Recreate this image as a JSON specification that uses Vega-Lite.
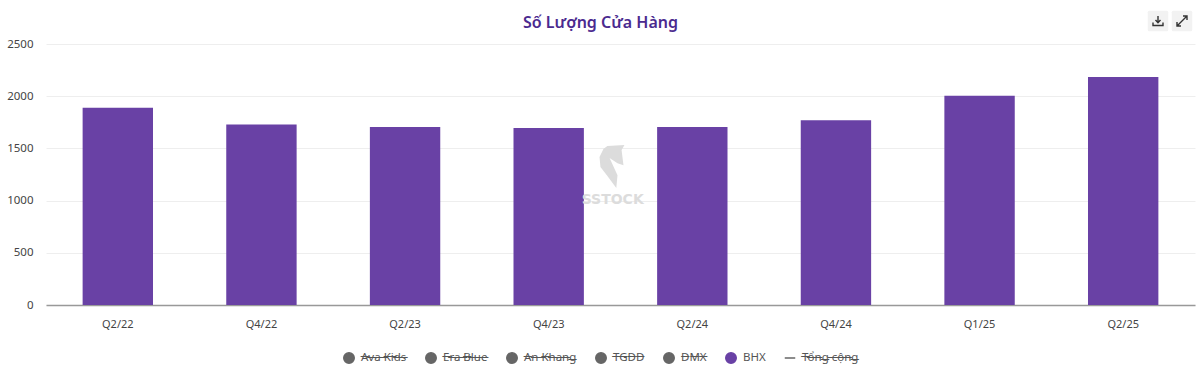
{"$schema":"https://vega.github.io/schema/vega-lite/v6.json","width":1149,"height":261,"autosize":{"type":"none"},"padding":{"left":46,"top":44,"right":5,"bottom":74},"background":"white","config":{"font":"Noto Sans","view":{"stroke":null}},"title":{"text":"Số Lượng Cửa Hàng","font":"Noto Sans","fontSize":16,"fontWeight":600,"color":"#4b2a8f","anchor":"middle","frame":"group","dx":-20,"offset":-20},"data":{"values":[{"period":"Q2/22","stores":1890,"series":"BHX"},{"period":"Q4/22","stores":1730,"series":"BHX"},{"period":"Q2/23","stores":1705,"series":"BHX"},{"period":"Q4/23","stores":1695,"series":"BHX"},{"period":"Q2/24","stores":1705,"series":"BHX"},{"period":"Q4/24","stores":1770,"series":"BHX"},{"period":"Q1/25","stores":2005,"series":"BHX"},{"period":"Q2/25","stores":2185,"series":"BHX"}]},"layer":[{"mark":{"type":"bar","color":"#6941a5"},"encoding":{"x":{"field":"period","type":"nominal","scale":{"domain":["Q2/22","Q4/22","Q2/23","Q4/23","Q2/24","Q4/24","Q1/25","Q2/25"],"paddingInner":0.51,"paddingOuter":0.255},"axis":{"title":null,"labelAngle":0,"labelFontSize":11,"labelColor":"#444","labelPadding":13,"ticks":false,"domainColor":"#999","domainWidth":1.5,"grid":false}},"y":{"field":"stores","type":"quantitative","scale":{"domain":[0,2500]},"axis":{"title":null,"format":"d","values":[0,500,1000,1500,2000,2500],"labelFontSize":11.5,"labelColor":"#444","labelPadding":13,"ticks":false,"domain":false,"gridColor":"#eeeeee"}}}},{"data":{"values":[{"label":"SSTOCK","period":"Q4/23"}]},"mark":{"type":"text","text":"SSTOCK","font":"DejaVu Sans","fontWeight":"bold","fontSize":14,"color":"#dcdcdc","align":"center","baseline":"middle","dx":64},"encoding":{"x":{"field":"period","type":"nominal","scale":{"domain":["Q2/22","Q4/22","Q2/23","Q4/23","Q2/24","Q4/24","Q1/25","Q2/25"]}},"y":{"datum":1010,"type":"quantitative","scale":{"domain":[0,2500]}}}},{"data":{"values":[{"label":"horse","period":"Q4/23"}]},"mark":{"type":"point","filled":true,"color":"#dcdcdc","opacity":1,"size":2300,"shape":"M-0.17,-0.92 L0.54,-0.96 L0.42,-0.75 L0.5,-0.12 L0.25,-0.2 L-0.08,-0.42 L0.25,0.3 L0.2,0.83 L-0.17,0.33 L-0.46,-0.04 L-0.5,-0.46 L-0.33,-0.8 Z"},"encoding":{"x":{"field":"period","type":"nominal","scale":{"domain":["Q2/22","Q4/22","Q2/23","Q4/23","Q2/24","Q4/24","Q1/25","Q2/25"]}},"xOffset":{"value":98},"y":{"datum":1312,"type":"quantitative","scale":{"domain":[0,2500]}}}},{"data":{"values":[{"label":"bg1","period":"Q2/25"}]},"mark":{"type":"point","filled":true,"color":"#f2f2f2","opacity":1,"size":420,"shape":"M-0.85,-1 H0.85 Q1,-1 1,-0.85 V0.85 Q1,1 0.85,1 H-0.85 Q-1,1 -1,0.85 V-0.85 Q-1,-1 -0.85,-1 Z"},"encoding":{"x":{"field":"period","type":"nominal","scale":{"domain":["Q2/22","Q4/22","Q2/23","Q4/23","Q2/24","Q4/24","Q1/25","Q2/25"]}},"xOffset":{"value":70},"y":{"datum":2720,"type":"quantitative","scale":{"domain":[0,2500]}}}},{"data":{"values":[{"label":"bg2","period":"Q2/25"}]},"mark":{"type":"point","filled":true,"color":"#f2f2f2","opacity":1,"size":420,"shape":"M-0.85,-1 H0.85 Q1,-1 1,-0.85 V0.85 Q1,1 0.85,1 H-0.85 Q-1,1 -1,0.85 V-0.85 Q-1,-1 -0.85,-1 Z"},"encoding":{"x":{"field":"period","type":"nominal","scale":{"domain":["Q2/22","Q4/22","Q2/23","Q4/23","Q2/24","Q4/24","Q1/25","Q2/25"]}},"xOffset":{"value":94},"y":{"datum":2720,"type":"quantitative","scale":{"domain":[0,2500]}}}},{"data":{"values":[{"label":"download","period":"Q2/25"}]},"mark":{"type":"point","filled":false,"color":"#333","opacity":1,"strokeWidth":1.4,"size":100,"shape":"M0,-1 V0.3 M-0.5,-0.2 L0,0.35 L0.5,-0.2 M-1,0.3 V0.9 H1 V0.3"},"encoding":{"x":{"field":"period","type":"nominal","scale":{"domain":["Q2/22","Q4/22","Q2/23","Q4/23","Q2/24","Q4/24","Q1/25","Q2/25"]}},"xOffset":{"value":70},"y":{"datum":2720,"type":"quantitative","scale":{"domain":[0,2500]}}}},{"data":{"values":[{"label":"expand","period":"Q2/25"}]},"mark":{"type":"point","filled":false,"color":"#333","opacity":1,"strokeWidth":1.4,"size":100,"shape":"M-1,1 L1,-1 M0.2,-1 H1 V-0.2 M-1,0.2 V1 H-0.2"},"encoding":{"x":{"field":"period","type":"nominal","scale":{"domain":["Q2/22","Q4/22","Q2/23","Q4/23","Q2/24","Q4/24","Q1/25","Q2/25"]}},"xOffset":{"value":94},"y":{"datum":2720,"type":"quantitative","scale":{"domain":[0,2500]}}}},{"transform":[{"filter":"datum.stores < 0"}],"mark":{"type":"point","filled":true,"opacity":1},"encoding":{"x":{"field":"period","type":"nominal","scale":{"domain":["Q2/22","Q4/22","Q2/23","Q4/23","Q2/24","Q4/24","Q1/25","Q2/25"]}},"y":{"field":"stores","type":"quantitative","scale":{"domain":[0,2500]}},"fill":{"field":"series","type":"nominal","scale":{"domain":["Ava Kids","Era Blue","An Khang","TGDD","DMX","BHX","Tổng cộng"],"range":["#666666","#666666","#666666","#666666","#666666","#6941a5","#666666"]},"legend":{"title":null,"orient":"none","legendX":297,"legendY":308,"direction":"horizontal","columns":7,"gridAlign":"none","columnPadding":15,"symbolSize":110,"symbolStrokeWidth":1.5,"labelFontSize":11.5,"labelColor":"#555","labelOffset":6,"labelExpr":"datum.label == 'BHX' ? datum.label : replace(datum.label, /(.)/g, '$1\u0336')"}},"stroke":{"field":"series","type":"nominal","scale":{"domain":["Ava Kids","Era Blue","An Khang","TGDD","DMX","BHX","Tổng cộng"],"range":["#666666","#666666","#666666","#666666","#666666","#6941a5","#666666"]}},"shape":{"field":"series","type":"nominal","scale":{"domain":["Ava Kids","Era Blue","An Khang","TGDD","DMX","BHX","Tổng cộng"],"range":["circle","circle","circle","circle","circle","circle","stroke"]}}}}]}
